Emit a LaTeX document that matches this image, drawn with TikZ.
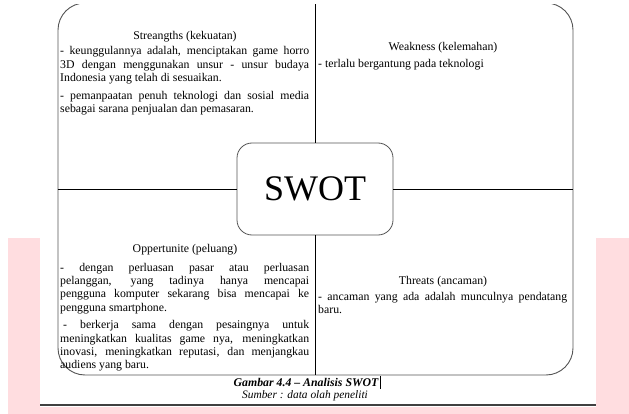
\documentclass[tikz,border=0pt]{standalone}
\usepackage{fontspec}
\setmainfont{Liberation Serif}
\definecolor{pinkbg}{RGB}{255,221,224}
\definecolor{framegray}{RGB}{85,85,85}
\newcommand{\bodysetup}{\setlength{\parskip}{4pt}\tolerance=10000\hyphenpenalty=10000\spaceskip=0.25em plus 2em minus 0.08em\relax}
\begin{document}
\begin{tikzpicture}[x=1pt,y=-1pt,
  bodytext/.style={anchor=base west, text width=249pt, inner sep=0pt, align=justify, font=\fontsize{11.8}{13.4}\selectfont},
  titletext/.style={anchor=base, inner sep=0pt, font=\fontsize{11.8}{13.4}\selectfont},
  divider/.style={draw=black, line width=0.8pt},
  pagerule/.style={draw=black!75, line width=2pt}
]
\useasboundingbox (0,0) rectangle (629,414);
\fill[white] (0,0) rectangle (629,414);
\fill[pinkbg] (8,238) rectangle (40,414);
\fill[pinkbg] (596,238) rectangle (629,414);
\fill[pinkbg] (8,407) rectangle (629,414);
\coordinate (ruleL) at (40,405);
\coordinate (ruleR) at (596,405);
\draw[pagerule] (ruleL) -- (ruleR);

\begin{scope}
\clip (0,5) rectangle (629,414);
\node[draw=framegray, line width=0.9pt, rounded corners=27pt, minimum width=515pt, minimum height=372pt, inner sep=0pt] (frame) at (315.5,189) {};
\node[draw=framegray, fill=white, line width=0.8pt, rounded corners=15pt, minimum width=156pt, minimum height=92pt, inner sep=0pt, font=\fontsize{36}{40}\selectfont] (swot) at (315,189) {SWOT};
\draw[divider] (frame.north -| swot.north) -- (swot.north);
\draw[divider] (swot.south) -- (frame.south -| swot.south);
\draw[divider] (frame.west |- swot.west) -- (swot.west);
\draw[divider] (swot.east) -- (frame.east |- swot.east);
\end{scope}

\node[titletext] (sTitle) at (185,40) {Streangths (kekuatan)};
\node[bodytext] (sBody) at (60,55) {\bodysetup - keunggulannya adalah, menciptakan game horro\linebreak 3D dengan menggunakan unsur - unsur budaya\linebreak Indonesia yang telah di sesuaikan.\par - pemanpaatan penuh teknologi dan sosial media\linebreak sebagai sarana penjualan dan pemasaran.};

\node[titletext] (wTitle) at (443,51) {Weakness (kelemahan)};
\node[bodytext] (wBody) at (318,68) {\bodysetup - terlalu bergantung pada teknologi};

\node[titletext] (oTitle) at (185,252) {Oppertunite (peluang)};
\node[bodytext] (oBody) at (60,271) {\bodysetup - dengan perluasan pasar atau perluasan\linebreak pelanggan, yang tadinya hanya mencapai\linebreak pengguna komputer sekarang bisa mencapai ke\linebreak pengguna smartphone.\par \hspace*{3pt}- berkerja sama dengan pesaingnya untuk\linebreak meningkatkan kualitas game nya, meningkatkan\linebreak inovasi, meningkatkan reputasi, dan menjangkau\linebreak audiens yang baru.};

\node[titletext] (tTitle) at (443,284) {Threats (ancaman)};
\node[bodytext] (tBody) at (318,300) {\bodysetup - ancaman yang ada adalah munculnya pendatang\linebreak baru.};

\node[anchor=base, inner sep=0pt, font=\fontsize{11.8}{14}\selectfont\bfseries\itshape] (cap) at (306,386) {Gambar 4.4 – Analisis SWOT};
\coordinate (caretTop) at ([xshift=2pt, yshift=10pt]cap.base east);
\coordinate (caretBot) at ([xshift=2pt, yshift=-3pt]cap.base east);
\draw[line width=0.6pt] (caretTop) -- (caretBot);
\node[anchor=base, inner sep=0pt, font=\fontsize{11.4}{14}\selectfont\itshape] (src) at (305,398) {Sumber : data olah peneliti};
\end{tikzpicture}
\end{document}
